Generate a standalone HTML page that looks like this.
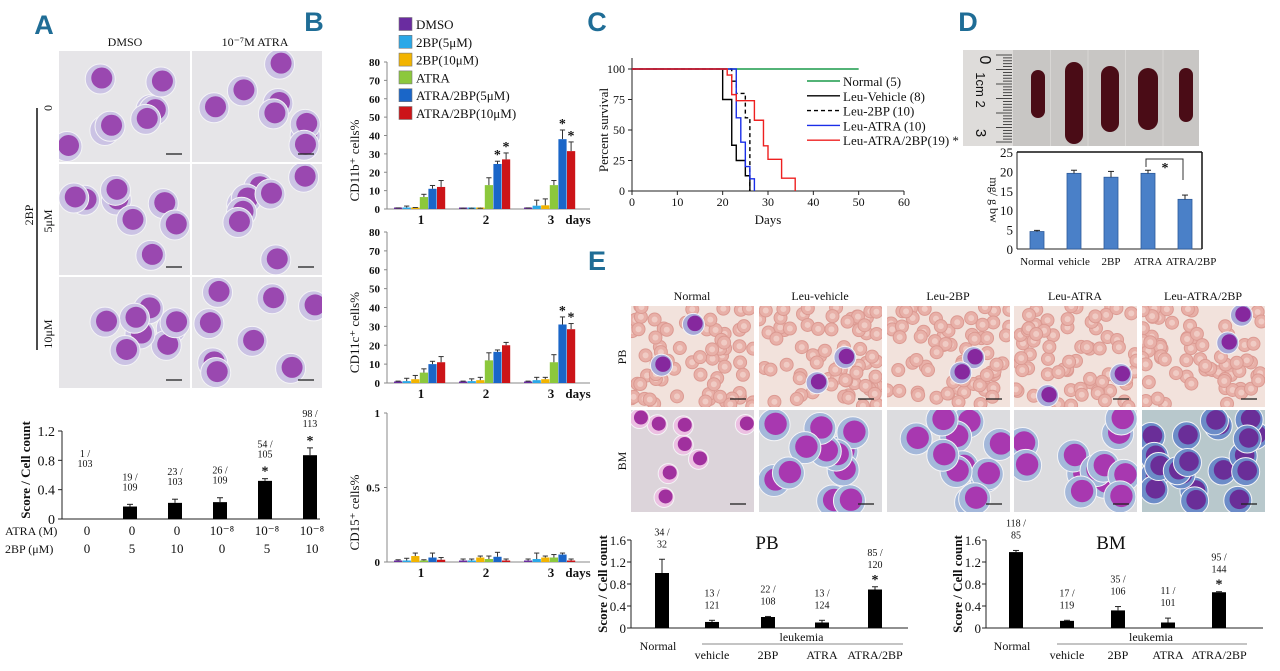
<!DOCTYPE html>
<html><head><meta charset="utf-8">
<style>
html,body{margin:0;padding:0;background:#fff;}
svg{display:block;font-family:"Liberation Serif",serif;}
.pl{font-family:"Liberation Sans",sans-serif;font-weight:bold;fill:#1f6d96;}
</style></head>
<body>
<svg id="fig" width="1280" height="671" viewBox="0 0 1280 671" xmlns="http://www.w3.org/2000/svg"></svg>
<script>
// ---------- Panel A chart data ----------
const aCats = ['0/0','0/5','0/10','1e-8/0','1e-8/5','1e-8/10'];
const aMean = [0, 0.17, 0.22, 0.23, 0.52, 0.87];
const aErr  = [0, 0.03, 0.05, 0.06, 0.03, 0.10];
const aNote1 = ['1 /','19 /','23 /','26 /','54 /','98 /'];
const aNote2 = ['103','109','103','109','105','113'];
const aStar = [false,false,false,false,true,true];
const aAtra = ['0','0','0','10⁻⁸','10⁻⁸','10⁻⁸'];
const a2bp = ['0','5','10','0','5','10'];
const aTicks = [0,0.4,0.8,1.2];
// ---------- Panel B data ----------
const bSeries = ['DMSO','2BP(5μM)','2BP(10μM)','ATRA','ATRA/2BP(5μM)','ATRA/2BP(10μM)'];
const bColors = ['#6a2ca0','#2aa8e8','#f2b400','#8cc83c','#1a66c8','#cc1418'];
const bDays = ['1','2','3'];
const cd11bDay1 = [0.3,0.8,0.5,6.5,11,12];
const cd11bDay2 = [0.2,0.2,0.2,13,24.5,27];
const cd11bDay3 = [0.3,1.8,2,13,38,31.5];
const cd11bErr1 = [0.3,0.8,0.3,1.5,1.8,3.5];
const cd11bErr2 = [0.2,0.2,0.2,4,1.5,3.5];
const cd11bErr3 = [0.3,3,3.5,2.5,5,5];
const cd11cDay1 = [0.5,1,2,5.5,10,11];
const cd11cDay2 = [0.5,1,1.5,12,16.5,20];
const cd11cDay3 = [0.5,1.5,2,11,31,28.5];
const cd11cErr1 = [0.5,1.5,2,2,1.5,3];
const cd11cErr2 = [0.5,1.2,1.5,4,1,1.5];
const cd11cErr3 = [0.5,1.5,1,4,4,3];
const cd15Day1 = [0.01,0.01,0.04,0.01,0.03,0.015];
const cd15Day2 = [0.01,0.01,0.03,0.02,0.035,0.01];
const cd15Day3 = [0.01,0.02,0.03,0.03,0.05,0.01];
const cd15Err1 = [0.005,0.015,0.02,0.005,0.03,0.015];
const cd15Err2 = [0.01,0.01,0.01,0.02,0.03,0.01];
const cd15Err3 = [0.01,0.04,0.01,0.02,0.01,0.01];
const bTicks80 = [0,10,20,30,40,50,60,70,80];
const bTicks1 = [0,0.5,1];
// ---------- Panel C data ----------
const cNames = ['Normal (5)','Leu-Vehicle (8)','Leu-2BP (10)','Leu-ATRA (10)','Leu-ATRA/2BP(19) *'];
const cColors = ['#1a9a4a','#000000','#000000','#1a2ee8','#ee2020'];
const cDash = ['','','4,3','',''];
const normalT = [0,50]; const normalS = [100,100];
const vehicleT = [0,20,22,23,25,26]; const vehicleS = [100,75,37.5,25,12.5,0];
const bp2T = [0,22,23,25,26,26]; const bp2S = [100,90,80,60,0,0];
const atraT = [0,23,24,25,26,27]; const atraS = [100,60,40,20,10,0];
const comboT = [0,21,22,23,27,29,30,33,36]; const comboS = [100,95,79,74,58,37,26,10.5,0];
const cXTicks = [0,10,20,30,40,50,60];
const cYTicks = [0,25,50,75,100];
// ---------- Panel D data ----------
const dCats = ['Normal','vehicle','2BP','ATRA','ATRA/2BP'];
const dMean = [4.5,19.5,18.5,19.5,12.8];
const dErr = [0.3,0.8,1.5,0.8,1.1];
const dTicks = [0,5,10,15,20,25];
// ---------- Panel E data ----------
const eCats = ['Normal','vehicle','2BP','ATRA','ATRA/2BP'];
const pbMean = [1.0,0.11,0.2,0.1,0.7];
const pbErr = [0.25,0.03,0.01,0.04,0.05];
const pbNote1 = ['34 /','13 /','22 /','13 /','85 /'];
const pbNote2 = ['32','121','108','124','120'];
const pbStar = [false,false,false,false,true];
const bmMean = [1.38,0.13,0.32,0.1,0.65];
const bmErr = [0.03,0.01,0.07,0.08,0.01];
const bmNote1 = ['118 /','17 /','35 /','11 /','95 /'];
const bmNote2 = ['85','119','106','101','144'];
const bmStar = [false,false,false,false,true];
const eTicks = [0,0.4,0.8,1.2,1.6];

const NS='http://www.w3.org/2000/svg';
const svg=document.getElementById('fig');
function E(tag,attrs,name,parent){
  const e=document.createElementNS(NS,tag);
  for(const k in attrs) e.setAttribute(k,attrs[k]);
  
  
  (parent||svg).appendChild(e);
  return e;
}
function T(x,y,s,name,o){
  o=o||{};
  const a={x:x,y:y,'font-size':o.size||12,'text-anchor':o.anchor||'middle',fill:o.fill||'#111'};
  if(o.bold) a['font-weight']='bold';
  if(o.rot!==undefined) a.transform='rotate('+o.rot+' '+x+' '+y+')';
  if(o.cls) a['class']=o.cls;
  if(o.family) a['font-family']=o.family;
  const t=E('text',a,name);
  t.textContent=s;
  return t;
}
function L(x1,y1,x2,y2,name,c,w,dash){
  const a={x1:x1,y1:y1,x2:x2,y2:y2,stroke:c||'#222','stroke-width':w||1};
  if(dash) a['stroke-dasharray']=dash;
  return E('line',a,name);
}
let seed=7;
function rnd(){seed=(seed*16807)%2147483647;return (seed-1)/2147483646;}

// ---------- micrograph stand-ins ----------
function micro(x,y,w,h,name,kind){
  const g=E('g',{},name);
  const cp=E('clipPath',{id:'c'+name},'clip-'+name,g);
  E('rect',{x:x,y:y,width:w,height:h},'clip-rect',cp);
  const inner=E('g',{'clip-path':'url(#c'+name+')'},'image-content',g);
  let bg='#e6e5e8',cyto='#cbc3e4',nuc='#9a48b0',n=8,r=15;
  if(kind==='pb'){bg='#f2e2dc';}
  if(kind==='bm'){bg='#dcdcdf';cyto='#a4b8da';nuc='#a838b0';n=12;r=16;}
  if(kind==='bmn'){bg='#dcd4da';cyto='#ecc0e2';nuc='#a0309e';n=8;r=10;}
  if(kind==='bmd'){bg='#b8c8cc';cyto='#6c8cc8';nuc='#6a2e98';n=20;r=14;}
  E('rect',{x:x,y:y,width:w,height:h,fill:bg},'image-background',inner);
  if(kind==='pb'){
    for(let i=0;i<70;i++){
      const cx=x+rnd()*w, cy=y+rnd()*h;
      E('circle',{cx:cx,cy:cy,r:6.5,fill:'#e8b0a8',stroke:'#dc9a92','stroke-width':1},'red-blood-cell',inner);
      E('circle',{cx:cx,cy:cy,r:3,fill:'#f0cbc4'},'rbc-center',inner);
    }
    n=2;r=11;cyto='#a7a8d8';nuc='#86289e';
  }
  for(let i=0;i<n;i++){
    const cx=x+8+rnd()*(w-16), cy=y+8+rnd()*(h-16);
    E('circle',{cx:cx,cy:cy,r:r,fill:cyto,stroke:'#f4f4f6','stroke-width':1},'cell-cytoplasm',inner);
    E('circle',{cx:cx+1.5,cy:cy-1,r:r*0.7,fill:nuc},'cell-nucleus',inner);
  }
  L(x+w-24,y+h-8,x+w-8,y+h-8,'scale-bar','#222',1.3);
  return g;
}

// ================= Panel A =================
T(44,34,'A','panel-label-a',{size:27,cls:'pl'});
T(125,46,'DMSO','column-label-dmso',{size:12});
T(255,46,'10⁻⁷M  ATRA','column-label-atra',{size:12});
const aRowY=[51,164,277];
const aColX=[59,192];
const aRowNames=['0','5μM','10μM'];
for(let r=0;r<3;r++){
  for(let c=0;c<2;c++) micro(aColX[c],aRowY[r],c===0?131:130,111,'a-micro-r'+r+'c'+c,'a');
  T(52,aRowY[r]+57,aRowNames[r],'row-label-2bp-'+r,{size:12,rot:-90});
}
L(37,108,37,350,'2bp-bracket-line','#111',1.5);
T(33,215,'2BP','row-group-label-2bp',{size:12,rot:-90});
// A chart
const yA=v=>519-v/1.2*88;
const xA=i=>85+i*45;
L(62,431,62,519,'a-y-axis'); L(62,519,320,519,'a-x-axis');
aTicks.forEach(t=>{ L(58,yA(t),62,yA(t),'a-y-tick'); T(55,yA(t)+5,String(t),'a-y-tick-label',{size:14,anchor:'end'}); });
T(30,470,'Score / Cell count','a-y-axis-title',{size:13,bold:true,rot:-90});
aMean.forEach((v,i)=>{
  const x=xA(i);
  if(v>0){E('rect',{x:x-7,y:yA(v),width:14,height:519-yA(v),fill:'#000'},'a-bar-'+i);
    L(x,yA(v),x,yA(v+aErr[i]),'a-error-bar'); L(x-3,yA(v+aErr[i]),x+3,yA(v+aErr[i]),'a-error-cap');}
  const top=v>0?yA(v+aErr[i]):481;
  const off=aStar[i]?31:24;
  T(x,top-off,aNote1[i],'a-count-label',{size:10});
  T(x,top-off+10,aNote2[i],'a-count-label',{size:10});
  if(aStar[i]) T(x,top-3,'*','a-significance-star',{size:14,bold:true});
  T(x+2,535,aAtra[i],'a-atra-value',{size:13});
  T(x+2,553,a2bp[i],'a-2bp-value',{size:13});
});
T(5,535,'ATRA (M)','a-atra-row-label',{size:12,anchor:'start'});
T(5,553,'2BP (μM)','a-2bp-row-label',{size:12,anchor:'start'});

// ================= Panel B =================
T(314,31,'B','panel-label-b',{size:27,cls:'pl'});
bSeries.forEach((s,i)=>{
  const y=24+i*17.8;
  E('rect',{x:399,y:y-6.5,width:13,height:13,fill:bColors[i],stroke:'#777','stroke-width':0.6},'b-legend-swatch-'+i);
  T(416,y+5,s,'b-legend-entry',{size:13,anchor:'start'});
});
function bChart(name,y0,y1,max,ticks,days,errs,stars,title,tickFmt){
  const yS=v=>y0-v/max*(y0-y1);
  L(387,y1,387,y0,name+'-y-axis','#888'); L(387,y0,590,y0,name+'-x-axis','#888');
  ticks.forEach(t=>{ L(384,yS(t),387,yS(t),name+'-y-tick','#888'); T(380,yS(t)+4,tickFmt(t),name+'-y-tick-label',{size:11,bold:true,anchor:'end'}); });
  T(359,(y0+y1)/2+25,title,name+'-y-axis-title',{size:13,rot:-90});
  const starts=[394,459,524];
  days.forEach((vals,g)=>{
    vals.forEach((v,i)=>{
      const x=starts[g]+i*8.6;
      const h=Math.max(y0-yS(v),1.5);
      E('rect',{x:x,y:y0-h,width:8.2,height:h,fill:bColors[i]},name+'-bar-day'+(g+1)+'-'+i);
      const et=yS(v+errs[g][i]);
      L(x+4.1,y0-h,x+4.1,et,name+'-error-bar','#333'); L(x+1.5,et,x+6.7,et,name+'-error-cap','#333');
      if(stars[g]&&stars[g][i]) T(x+4,et-2,'*','b-significance-star',{size:14,bold:true});
    });
    T(starts[g]+27,y0+15,bDays[g],name+'-day-label',{size:13,bold:true});
  });
  T(578,y0+15,'days','b-days-label',{size:13,bold:true});
}
const st=[false,false,false,false,true,true];
bChart('cd11b',209,62,80,bTicks80,[cd11bDay1,cd11bDay2,cd11bDay3],[cd11bErr1,cd11bErr2,cd11bErr3],[null,st,st],'CD11b⁺ cells%',t=>String(t));
bChart('cd11c',383,232,80,bTicks80,[cd11cDay1,cd11cDay2,cd11cDay3],[cd11cErr1,cd11cErr2,cd11cErr3],[null,null,st],'CD11c⁺ cells%',t=>String(t));
bChart('cd15',562,413,1,bTicks1,[cd15Day1,cd15Day2,cd15Day3],[cd15Err1,cd15Err2,cd15Err3],[null,null,null],'CD15⁺ cells%',t=>String(t));

// ================= Panel C =================
T(597,31,'C','panel-label-c',{size:27,cls:'pl'});
const xC=d=>632+d/60*272;
const yC=s=>191-s/100*122;
L(632,58,632,191,'c-y-axis'); L(632,191,904,191,'c-x-axis');
cYTicks.forEach(t=>{ L(628,yC(t),632,yC(t),'c-y-tick'); T(625,yC(t)+4,String(t),'c-y-tick-label',{size:12,anchor:'end'}); });
cXTicks.forEach(t=>{ L(xC(t),191,xC(t),195,'c-x-tick'); T(xC(t),206,String(t),'c-x-tick-label',{size:12}); });
T(608,130,'Percent survival','c-y-axis-title',{size:13,rot:-90});
T(768,224,'Days','c-x-axis-title',{size:13});
const cT=[normalT,vehicleT,bp2T,atraT,comboT], cS=[normalS,vehicleS,bp2S,atraS,comboS];
cT.forEach((ts,k)=>{
  let d='M'+xC(ts[0])+','+yC(cS[k][0]);
  for(let i=1;i<ts.length;i++){ d+=' H'+xC(ts[i])+' V'+yC(cS[k][i]); }
  const a={d:d,fill:'none',stroke:cColors[k],'stroke-width':1.4};
  if(cDash[k]) a['stroke-dasharray']=cDash[k];
  E('path',a,'c-survival-curve-'+k);
});
cNames.forEach((n,i)=>{
  const y=81+i*14.8;
  const a={x1:807,y1:y,x2:840,y2:y,stroke:cColors[i],'stroke-width':1.4};
  if(cDash[i]) a['stroke-dasharray']=cDash[i];
  E('line',a,'c-legend-line-'+i);
  T(843,y+5,n,'c-legend-entry',{size:13,anchor:'start'});
});

// ================= Panel D =================
T(968,31,'D','panel-label-d',{size:27,cls:'pl'});
const photo=E('g',{},'spleen-photo');
E('rect',{x:963,y:50,width:236,height:96,fill:'#c8c6c4'},'photo-background',photo);
E('rect',{x:963,y:50,width:50,height:96,fill:'#dedcda'},'ruler',photo);
for(let i=0;i<=30;i++){ const y=55+i*2.9; L(i%5===0?996:1003,y,1012,y,'ruler-tick','#222',0.8); }
T(980,60,'0','ruler-label-0',{size:16,rot:90,family:'Liberation Sans'});
T(976,90,'1cm 2','ruler-label-cm',{size:13,rot:90,family:'Liberation Sans'});
T(976,133,'3','ruler-label-3',{size:15,rot:90,family:'Liberation Sans'});
[[1038,70,7,48],[1074,62,9,82],[1110,66,9,66],[1148,68,10,62],[1186,68,7,54]].forEach((s,i)=>{
  E('rect',{x:s[0]-s[2],y:s[1],width:s[2]*2,height:s[3],rx:s[2],fill:'#4a0c16'},'spleen-'+i,photo);
});
for(let i=1;i<5;i++) L(1013+i*37.5,50,1013+i*37.5,146,'photo-divider','#d8d6d4',1);
const yD=v=>249-v/25*97;
const xD=i=>1037+i*37;
L(1017,152,1017,249,'d-y-axis'); L(1017,249,1202,249,'d-x-axis'); L(1017,152,1202,152,'d-top-border','#111',1.5); L(1202,152,1202,249,'d-right-border','#111',1.5);
dTicks.forEach(t=>{ T(1013,yD(t)+5,String(t),'d-y-tick-label',{size:13,anchor:'end'}); });
T(990,200,'mg/ g bw','d-y-axis-title',{size:12,rot:90});
dMean.forEach((v,i)=>{
  const x=xD(i);
  E('rect',{x:x-7,y:yD(v),width:14,height:249-yD(v),fill:'#4a80c8',stroke:'#2d5a9a','stroke-width':0.8},'d-bar-'+i);
  L(x,yD(v),x,yD(v+dErr[i]),'d-error-bar'); L(x-3,yD(v+dErr[i]),x+3,yD(v+dErr[i]),'d-error-cap');
  T(x+(i===4?6:0),265,dCats[i],'d-x-tick-label',{size:11});
});
E('path',{d:'M1146,167 V159 H1183 V180',fill:'none',stroke:'#333','stroke-width':1},'d-significance-bracket');
T(1165,172,'*','d-significance-star',{size:14,bold:true});

// ================= Panel E =================
T(597,270,'E','panel-label-e',{size:27,cls:'pl'});
const eColX=[631,759,887,1014,1142];
const eHead=['Normal','Leu-vehicle','Leu-2BP','Leu-ATRA','Leu-ATRA/2BP'];
const bmKinds=['bmn','bm','bm','bm','bmd'];
eColX.forEach((x,i)=>{
  T(x+61,300,eHead[i],'e-column-label',{size:12});
  micro(x,306,123,101,'e-pb-'+i,'pb');
  micro(x,410,123,102,'e-bm-'+i,bmKinds[i]);
});
T(626,357,'PB','e-row-label-pb',{size:12,rot:-90});
T(626,461,'BM','e-row-label-bm',{size:12,rot:-90});
function eChart(name,ax,bx,mean,err,n1,n2,stars,title,titleX){
  const yE=v=>628-v/1.6*88;
  L(ax,540,ax,628,name+'-y-axis'); L(ax,628,ax+277,628,name+'-x-axis');
  eTicks.forEach(t=>{ L(ax-4,yE(t),ax,yE(t),name+'-y-tick'); T(ax-5,yE(t)+5,String(t),name+'-y-tick-label',{size:13,anchor:'end'}); });
  T(ax-24,584,'Score / Cell count',name+'-y-axis-title',{size:13,bold:true,rot:-90});
  T(titleX,549,title,name+'-title',{size:19});
  mean.forEach((v,i)=>{
    const x=bx[i];
    E('rect',{x:x-7,y:yE(v),width:14,height:628-yE(v),fill:'#000'},name+'-bar-'+i);
    const et=yE(v+err[i]);
    L(x,yE(v),x,et,name+'-error-bar'); L(x-3,et,x+3,et,name+'-error-cap');
    const off=stars[i]?31:24;
    T(x,et-off,n1[i],name+'-count-label',{size:10});
    T(x,et-off+12,n2[i],name+'-count-label',{size:10});
    if(stars[i]) T(x,et-3,'*',name+'-significance-star',{size:14,bold:true});
    T(x+(i===0?-4:0),i===0?650:659,eCats[i],name+'-x-tick-label',{size:12});
  });
  L(bx[1]-10,644,bx[4]+28,644,name+'-leukemia-line','#888',1);
  T((bx[1]+bx[4])/2+8,641,'leukemia',name+'-leukemia-label',{size:12});
}
eChart('pb',631,[662,712,768,822,875],pbMean,pbErr,pbNote1,pbNote2,pbStar,'PB',767);
eChart('bm',986,[1016,1067,1118,1168,1219],bmMean,bmErr,bmNote1,bmNote2,bmStar,'BM',1111);
</script>
</body></html>
